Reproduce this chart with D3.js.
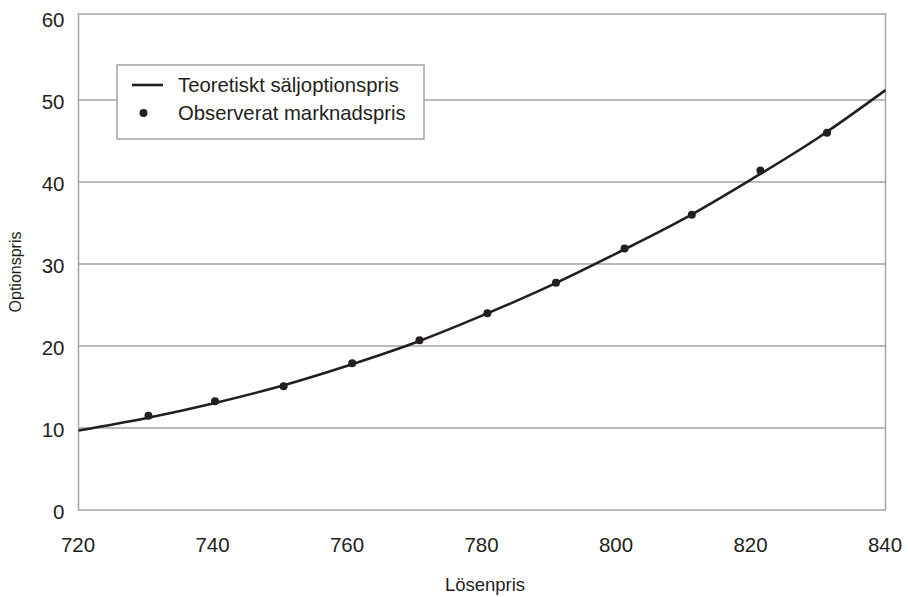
<!DOCTYPE html>
<html>
<head>
<meta charset="utf-8">
<script src="https://cdn.jsdelivr.net/npm/d3@7"></script>
<style>
  html, body { margin: 0; padding: 0; background: #fff; }
  svg { display: block; font-family: "Liberation Sans", Arial, sans-serif; }
</style>
</head>
<body>
<svg id="chart" width="908" height="597"></svg>
<script>
const xTicks = [720, 740, 760, 780, 800, 820, 840];
const yTicks = [0, 10, 20, 30, 40, 50, 60];

// theoretical put price curve
const curveStrikes = [720, 730, 740, 750, 760, 770, 780, 790, 800, 810, 820, 830, 840];
const curvePrices = [9.7, 11.2, 13.0, 15.1, 17.6, 20.4, 23.7, 27.3, 31.3, 35.5, 40.3, 45.4, 51.2];

// observed market prices
const obsStrikes = [730.4, 740.3, 750.5, 760.7, 770.7, 780.8, 791.0, 801.2, 811.2, 821.4, 831.3];
const obsPrices = [11.5, 13.25, 15.1, 17.9, 20.7, 24.0, 27.7, 31.9, 36.0, 41.4, 46.0];

const legendLabels = ["Teoretiskt säljoptionspris", "Observerat marknadspris"];

const svg = d3.select("#chart");
const frame = { left: 78.5, right: 885.5, top: 14, bottom: 510 };

const x = d3.scaleLinear().domain([720, 840]).range([frame.left, frame.right]);
const y = d3.scaleLinear().domain([0, 60]).range([frame.bottom, 18]);

const gridColor = "#a3a3a3";
const inkColor = "#231f20";

// gridlines
svg.append("g")
  .selectAll("line")
  .data(yTicks.filter((d) => d > 0 && d < 60))
  .join("line")
  .attr("x1", frame.left)
  .attr("x2", frame.right)
  .attr("y1", (d) => y(d))
  .attr("y2", (d) => y(d))
  .attr("stroke", gridColor)
  .attr("stroke-width", 1.5);

// plot frame
svg.append("rect")
  .attr("x", frame.left)
  .attr("y", frame.top)
  .attr("width", frame.right - frame.left)
  .attr("height", frame.bottom - frame.top)
  .attr("fill", "none")
  .attr("stroke", gridColor)
  .attr("stroke-width", 1.5);

// y axis labels
const yAxis = d3.axisLeft(y).tickValues(yTicks).tickSize(0).tickPadding(14);
svg.append("g")
  .attr("transform", `translate(${frame.left},2)`)
  .call(yAxis)
  .call((g) => g.select(".domain").remove())
  .selectAll("text")
  .attr("font-size", 20.5)
  .attr("font-family", "Liberation Sans, Arial, sans-serif")
  .attr("fill", inkColor);

// x axis labels
const xAxis = d3.axisBottom(x).tickValues(xTicks).tickSize(0).tickPadding(27);
svg.append("g")
  .attr("transform", `translate(-1,${frame.bottom})`)
  .call(xAxis)
  .call((g) => g.select(".domain").remove())
  .selectAll("text")
  .attr("font-size", 20.5)
  .attr("font-family", "Liberation Sans, Arial, sans-serif")
  .attr("fill", inkColor);

// axis titles
svg.append("text")
  .attr("x", 485)
  .attr("y", 591)
  .attr("text-anchor", "middle")
  .attr("font-size", 18.5)
  .attr("fill", inkColor)
  .text("Lösenpris");

svg.append("text")
  .attr("transform", "translate(21,272) rotate(-90)")
  .attr("text-anchor", "middle")
  .attr("font-size", 16)
  .attr("fill", inkColor)
  .text("Optionspris");

// theoretical curve
const line = d3.line()
  .x((d) => x(d[0]))
  .y((d) => y(d[1]))
  .curve(d3.curveMonotoneX);

svg.append("path")
  .datum(d3.zip(curveStrikes, curvePrices))
  .attr("d", line)
  .attr("fill", "none")
  .attr("stroke", inkColor)
  .attr("stroke-width", 2.6);

// observed dots
svg.append("g")
  .selectAll("circle")
  .data(d3.zip(obsStrikes, obsPrices))
  .join("circle")
  .attr("cx", (d) => x(d[0]))
  .attr("cy", (d) => y(d[1]))
  .attr("r", 4)
  .attr("fill", inkColor);

// legend
const legend = svg.append("g").attr("transform", "translate(117,65)");
legend.append("rect")
  .attr("width", 307)
  .attr("height", 74)
  .attr("fill", "#fff")
  .attr("stroke", gridColor)
  .attr("stroke-width", 1.5);

legend.append("line")
  .attr("x1", 15)
  .attr("x2", 46)
  .attr("y1", 20)
  .attr("y2", 20)
  .attr("stroke", inkColor)
  .attr("stroke-width", 2.6);

legend.append("circle")
  .attr("cx", 26.5)
  .attr("cy", 48)
  .attr("r", 4)
  .attr("fill", inkColor);

legend.selectAll("text.label")
  .data(legendLabels)
  .join("text")
  .attr("class", "label")
  .attr("x", 61)
  .attr("y", (d, i) => 27 + i * 28)
  .attr("font-size", 20.3)
  .attr("fill", inkColor)
  .text((d) => d);
</script>
</body>
</html>
